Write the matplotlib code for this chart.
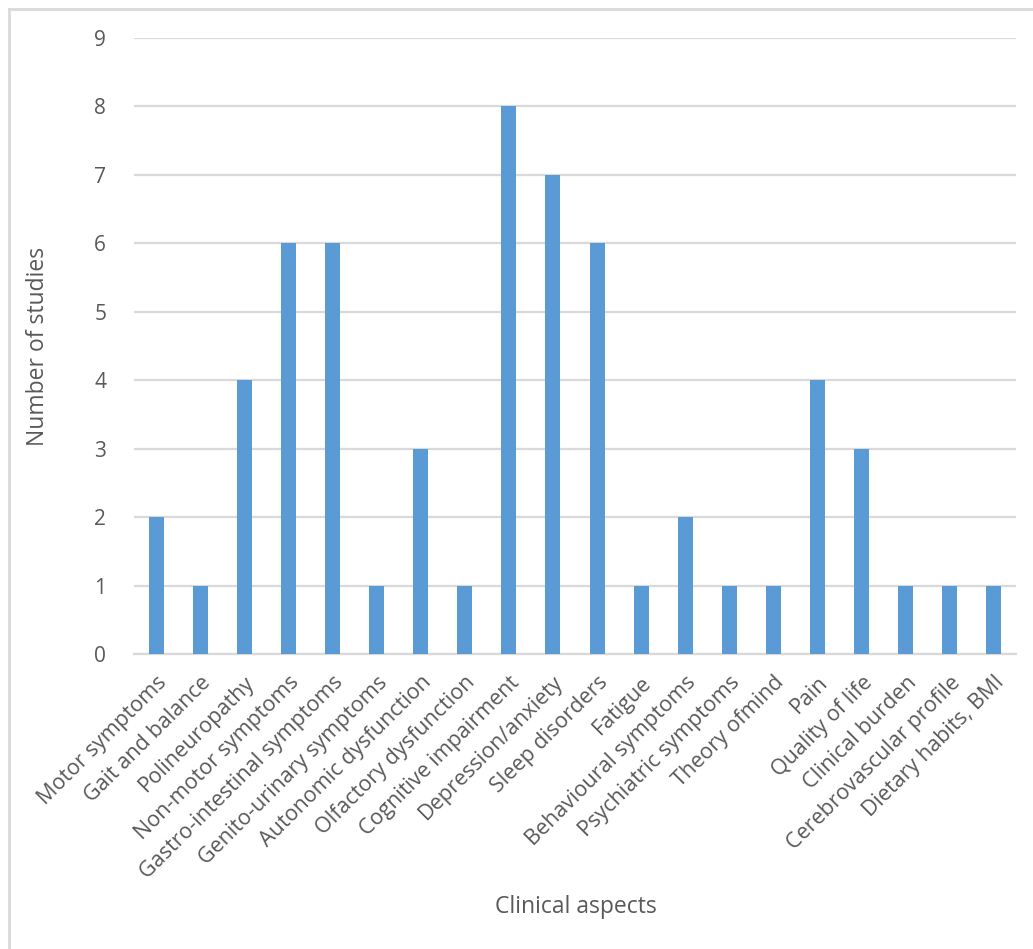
import matplotlib
matplotlib.use("Agg")
import matplotlib.pyplot as plt
from matplotlib.lines import Line2D

plt.rcParams['font.family'] = ['Open Sans', 'DejaVu Sans']

categories = [
    "Motor symptoms", "Gait and balance", "Polineuropathy", "Non-motor symptoms",
    "Gastro-intestinal symptoms", "Genito-urinary symptoms", "Autonomic dysfunction",
    "Olfactory dysfunction", "Cognitive impairment", "Depression/anxiety",
    "Sleep disorders", "Fatigue", "Behavioural symptoms", "Psychiatric symptoms",
    "Theory ofmind", "Pain", "Quality of life", "Clinical burden",
    "Cerebrovascular profile", "Dietary habits, BMI",
]
studies = [2, 1, 4, 6, 6, 1, 3, 1, 8, 7, 6, 1, 2, 1, 1, 4, 3, 1, 1, 1]
y_ticks = list(range(0, 10))

text_col = "#595959"
grid_col = "#d9d9d9"

fig = plt.figure(figsize=(10.33, 9.49), dpi=100)
ax = fig.add_axes([0.1297, 0.3109, 0.8538, 0.6491])

x = range(len(categories))
ax.bar(x, studies, width=0.34, color="#5b9bd5", zorder=3)

ax.set_xlim(-0.5, len(categories) - 0.5)
ax.set_ylim(0, 9)
ax.set_yticks(y_ticks)
ax.yaxis.grid(True, color=grid_col, linewidth=1.6, zorder=0)
ax.tick_params(axis="y", length=0, pad=20, labelsize=15, labelcolor=text_col)
ax.tick_params(axis="x", length=0, pad=13, labelcolor=text_col)
ax.set_xticks(list(x))
ax.set_xticklabels(categories, rotation=45, ha="right", va="top",
                   rotation_mode="anchor", fontsize=15.5)

for side in ["top", "right", "left"]:
    ax.spines[side].set_visible(False)
ax.spines["bottom"].set_color(grid_col)
ax.spines["bottom"].set_linewidth(1.6)

ax.set_ylabel("Number of studies", fontsize=16.5, color=text_col, labelpad=32)
fig.text(0.557, 0.044, "Clinical aspects", fontsize=16.5, color=text_col,
         ha="center", va="center")

# frame of the chart area (only top and left edges are visible)
fig.add_artist(Line2D([0.0087, 0.0087], [0, 0.9905], color=grid_col, linewidth=2,
                      transform=fig.transFigure))
fig.add_artist(Line2D([0.0087, 1.0], [0.9905, 0.9905], color=grid_col, linewidth=2,
                      transform=fig.transFigure))

fig.savefig("out.png", dpi=100)
